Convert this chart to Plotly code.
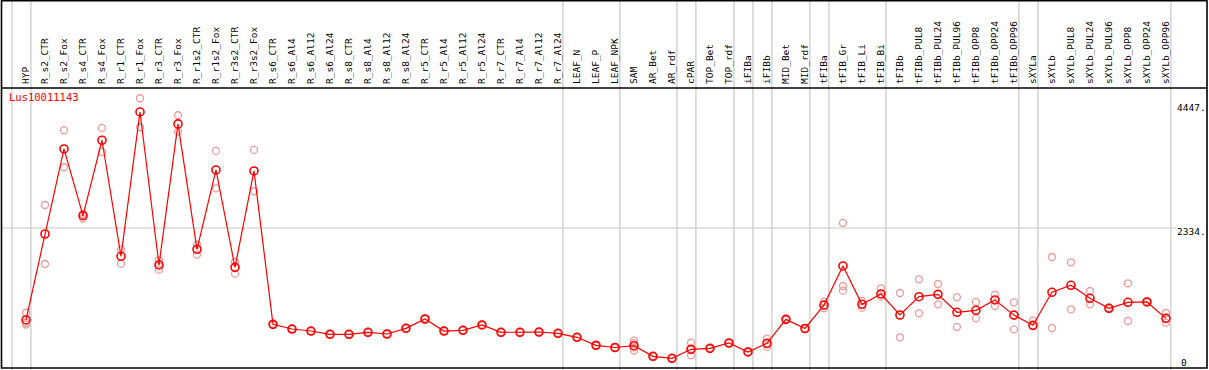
import plotly.graph_objects as go

categories = ["HYP", "R_s2_CTR", "R_s2_Fox", "R_s4_CTR", "R_s4_Fox", "R_r1_CTR", "R_r1_Fox",
              "R_r3_CTR", "R_r3_Fox", "R_r1s2_CTR", "R_r1s2_Fox", "R_r3s2_CTR", "R_r3s2_Fox",
              "R_s6_CTR", "R_s6_Al4", "R_s6_Al12", "R_s6_Al24", "R_s8_CTR", "R_s8_Al4", "R_s8_Al12",
              "R_s8_Al24", "R_r5_CTR", "R_r5_Al4", "R_r5_Al12", "R_r5_Al24", "R_r7_CTR", "R_r7_Al4",
              "R_r7_Al12", "R_r7_Al24", "LEAF_N", "LEAF_P", "LEAF_NPK", "SAM", "AR_Bet", "AR_rdf",
              "cPAR", "TOP_Bet", "TOP_rdf", "iFIBa", "iFIBb", "MID_Bet", "MID_rdf", "tFIBa",
              "tFIB_Gr", "tFIB_Li", "tFIB_Bi", "tFIBb", "tFIBb_PUL8", "tFIBb_PUL24", "tFIBb_PUL96",
              "tFIBb_OPP8", "tFIBb_OPP24", "tFIBb_OPP96", "sXYLa", "sXYLb", "sXYLb_PUL8",
              "sXYLb_PUL24", "sXYLb_PUL96", "sXYLb_OPP8", "sXYLb_OPP24", "sXYLb_OPP96"]

mean_values = [767, 2232, 3681, 2544, 3829, 1852, 4311, 1704, 4107, 1971, 3323, 1664, 3306,
               693, 613, 579, 523, 523, 557, 528, 625, 784, 579, 591, 682, 557, 557, 562, 540,
               472, 335, 298, 329, 148, 114, 267, 284, 375, 222, 369, 778, 622, 1020,
               1687, 1034, 1210, 852, 1164, 1204, 898, 932, 1108, 850, 676, 1239, 1358,
               1136, 966, 1068, 1074, 795]

replicates = [[890, 720, 690], [2726, 1721], [4000, 3369], [2575, 2495, 2560], [4039, 3630],
              [1965, 1727], [4544, 4050], [1784, 1624, 1710], [4255, 3976], [2050, 1880],
              [3647, 3010], [1755, 1556], [3664, 2960],
              [700, 686], [620, 606], [585, 573], [530, 516], [528, 518], [563, 551], [534, 522],
              [632, 618], [792, 776], [585, 573], [597, 585], [690, 674], [562, 552], [563, 551],
              [567, 557], [545, 535], [478, 466], [340, 330], [303, 293],
              [414, 372, 300, 245], [152, 144], [118, 110], [380, 165, 270], [289, 279],
              [380, 370], [230, 214], [448, 312], [785, 771], [628, 616], [1079, 966],
              [2420, 1346, 1266], [1091, 977], [1307, 1164], [1227, 472], [1460, 881],
              [1380, 1034], [1153, 648], [1074, 795], [1198, 1006], [1068, 608], [755, 660],
              [1840, 630], [1750, 949], [1261, 1034], [975, 958], [1392, 750], [1085, 1066],
              [886, 721]]

# group separators: drawn just after these categories (index -1 = before first)
separator_after = [-1, 0, 28, 31, 34, 35, 37, 38, 39, 41, 42, 45, 52, 53, 60]

y_tick_vals = [2334, 4447]
y_tick_text = ["2334.", "4447."]
gene_name = "Lus10011143"

W, H = 1209, 370
FONT = "DejaVu Sans Mono"

xs = list(range(len(categories)))
rep_x = [i for i, reps in enumerate(replicates) for _ in reps]
rep_y = [v for reps in replicates for v in reps]

fig = go.Figure()
fig.add_trace(go.Scatter(
    x=rep_x, y=rep_y, mode="markers",
    marker=dict(symbol="circle-open", size=7, color="#ee9a9a", line=dict(width=1.3, color="#ee9a9a")),
    hoverinfo="skip"))
fig.add_trace(go.Scatter(
    x=xs, y=mean_values, mode="lines+markers",
    line=dict(color="#ff0000", width=1.2),
    marker=dict(symbol="circle-open", size=8, color="#ff0000", line=dict(width=1.6, color="#ff0000"))))

shapes = []
for k in separator_after:
    shapes.append(dict(type="line", xref="x", yref="paper", x0=k + 0.26, x1=k + 0.26,
                       y0=0, y1=1, line=dict(color="#c8c8c8", width=1.2), layer="below"))
shapes.append(dict(type="line", xref="x domain", yref="y", x0=0, x1=1, y0=2334, y1=2334,
                   line=dict(color="#c8c8c8", width=1.2), layer="below"))
# horizontal separator between label band and plot
shapes.append(dict(type="line", xref="paper", yref="paper", x0=1 / W, x1=1207 / W,
                   y0=1 - 88 / H, y1=1 - 88 / H, line=dict(color="black", width=1.5)))
# outer frame
shapes.append(dict(type="rect", xref="paper", yref="paper", x0=1.5 / W, x1=1207 / W,
                   y0=1 - 368 / H, y1=1 - 0.7 / H, line=dict(color="black", width=1.6)))

fig.update_layout(
    width=W, height=H, template="none", showlegend=False,
    margin=dict(l=0, r=0, t=0, b=0),
    paper_bgcolor="white", plot_bgcolor="white",
    title=dict(text=gene_name, x=9 / W, xanchor="left", y=1 - 97 / H, yanchor="middle",
               xref="paper", yref="paper", font=dict(family=FONT, size=10.5, color="#ff0000")),
    xaxis=dict(domain=[1 / W, 1176 / W], range=[-1.316, 60.53], side="top",
               tickmode="array", tickvals=xs, ticktext=categories, tickangle=-90,
               ticks="", showgrid=False, zeroline=False, showline=False, automargin=False,
               tickfont=dict(family=FONT, size=9.5, color="black"), ticklabelstandoff=3),
    yaxis=dict(domain=[2 / H, 282 / H], range=[-51, 4719], side="right",
               tickmode="array", tickvals=y_tick_vals, ticktext=y_tick_text,
               ticks="", showgrid=False, zeroline=False, showline=False, automargin=False,
               ticklabelshift=4, tickfont=dict(family=FONT, size=9.5, color="black")),
    shapes=shapes,
    annotations=[dict(text="0", xref="paper", yref="paper", x=1179 / W, y=1 - 362 / H,
                      xanchor="left", yanchor="middle", showarrow=False,
                      font=dict(family=FONT, size=9.5, color="black"))],
)

fig.write_html("out.html", config={"displayModeBar": False},
               post_script="document.body.style.margin='0';document.body.style.overflow='hidden';")
